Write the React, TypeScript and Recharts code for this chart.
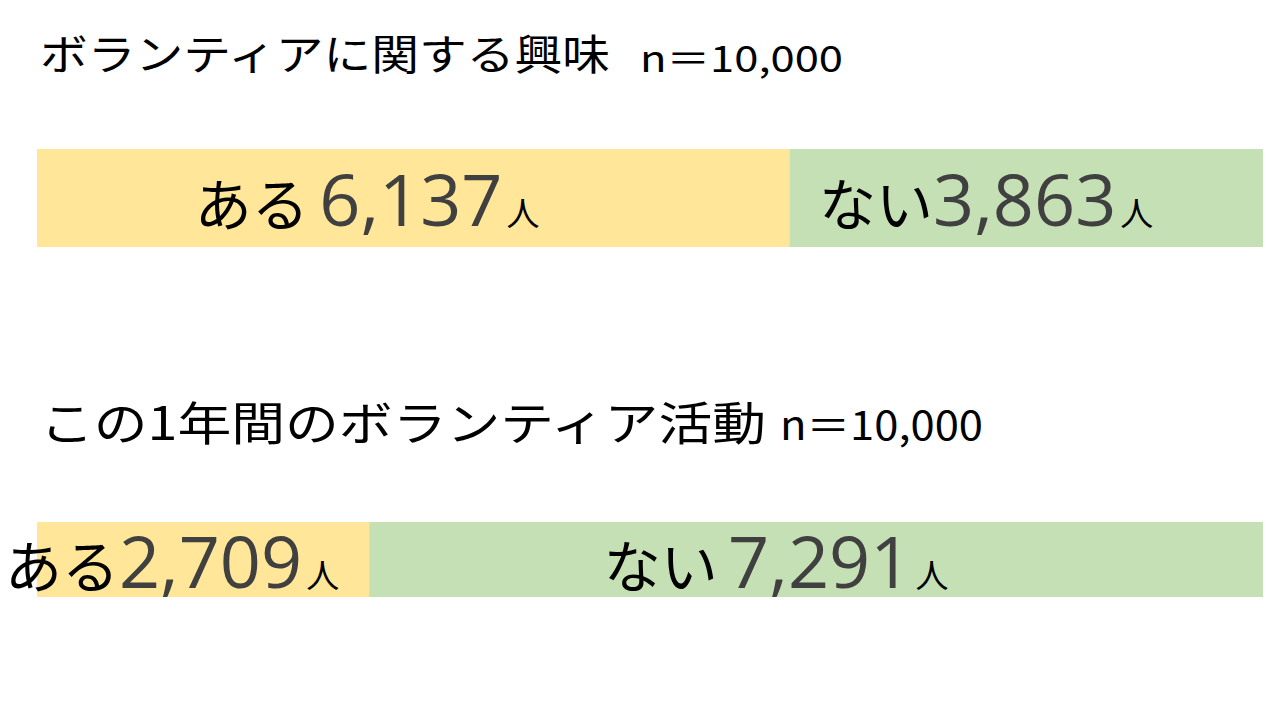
import React from 'react';
import { BarChart, Bar, XAxis, YAxis, LabelList } from 'recharts';

const titles = ['ボランティアに関する興味', 'この1年間のボランティア活動'];
const sampleSizes = ['n＝10,000', 'n＝10,000'];
const yesValues = [6137, 2709];
const noValues = [3863, 7291];
const answerLabels = ['ある', 'ない'];
const unit = '人';
// whether a space sits between the word and the number in each label
const yesSpaced = [true, false];
const noSpaced = [false, true];

const YELLOW = '#FFE699';
const GREEN = '#C5E0B4';
const JP = '"Noto Sans CJK JP", sans-serif';
const NUM = '"Open Sans", sans-serif';
const PAD = 30; // extra room above/below the bar so labels are not clipped

// layout of the two panels on the page
const PANELS = [
  {
    titleY: 70, titleSize: 42, titleW: 570, nX: 640, nY: 72, nSize: 36, nW: 203,
    barTop: 149, barH: 98, yesShift: -46, noShift: -40,
  },
  {
    titleY: 440, titleSize: 46, titleW: 726, nX: 780, nY: 440, nSize: 40, nW: 203,
    barTop: 522, barH: 75, yesShift: -31, noShift: -40,
  },
];

const makeLabel = (word: string, spaced: boolean[], idx: number, shift: number) => (props: any) => {
  const { x, y, width, height, value } = props;
  const cx = x + width / 2 + shift;
  const base = y + height / 2 + 28;
  return (
    <text x={cx} y={base} textAnchor="middle">
      <tspan fontFamily={JP} fontSize={57} fill="#000">{word}</tspan>
      {spaced[idx] ? <tspan fontFamily={NUM} fontSize={40}> </tspan> : null}
      <tspan fontFamily={NUM} fontSize={72} fill="#404040">
        {Number(value).toLocaleString('en-US')}
      </tspan>
      <tspan fontFamily={JP} fontSize={33} fill="#000" dx={4}>{unit}</tspan>
    </text>
  );
};

export default function App() {
  return (
    <div
      style={{
        position: 'absolute',
        top: 0,
        left: 0,
        width: 1280,
        height: 720,
        background: '#fff',
        overflow: 'hidden',
      }}
    >
      <svg width={1280} height={720} style={{ position: 'absolute', top: 0, left: 0 }}>
        {titles.map((t, i) => (
          <g key={t}>
            <text
              x={40}
              y={PANELS[i].titleY}
              fontFamily={JP}
              fontSize={PANELS[i].titleSize}
              fill="#000"
              textLength={PANELS[i].titleW}
              lengthAdjust="spacingAndGlyphs"
            >
              {t}
            </text>
            <text
              x={PANELS[i].nX}
              y={PANELS[i].nY}
              fontFamily={JP}
              fontSize={PANELS[i].nSize}
              fill="#000"
              textLength={PANELS[i].nW}
              lengthAdjust="spacingAndGlyphs"
            >
              {sampleSizes[i]}
            </text>
          </g>
        ))}
      </svg>
      {titles.map((t, i) => {
        const p = PANELS[i];
        const data = [{ name: t, yes: yesValues[i], no: noValues[i] }];
        return (
          <div key={t} style={{ position: 'absolute', top: p.barTop - PAD, left: 0 }}>
            <BarChart
              width={1280}
              height={p.barH + PAD * 2}
              data={data}
              layout="vertical"
              margin={{ top: PAD, right: 17, bottom: PAD, left: 37 }}
              barCategoryGap={0}
            >
              <XAxis type="number" domain={[0, 10000]} hide />
              <YAxis type="category" dataKey="name" hide />
              <Bar dataKey="yes" stackId="a" fill={YELLOW} isAnimationActive={false}>
                <LabelList
                  dataKey="yes"
                  content={makeLabel(answerLabels[0], yesSpaced, i, p.yesShift)}
                />
              </Bar>
              <Bar dataKey="no" stackId="a" fill={GREEN} isAnimationActive={false}>
                <LabelList
                  dataKey="no"
                  content={makeLabel(answerLabels[1], noSpaced, i, p.noShift)}
                />
              </Bar>
            </BarChart>
          </div>
        );
      })}
    </div>
  );
}
